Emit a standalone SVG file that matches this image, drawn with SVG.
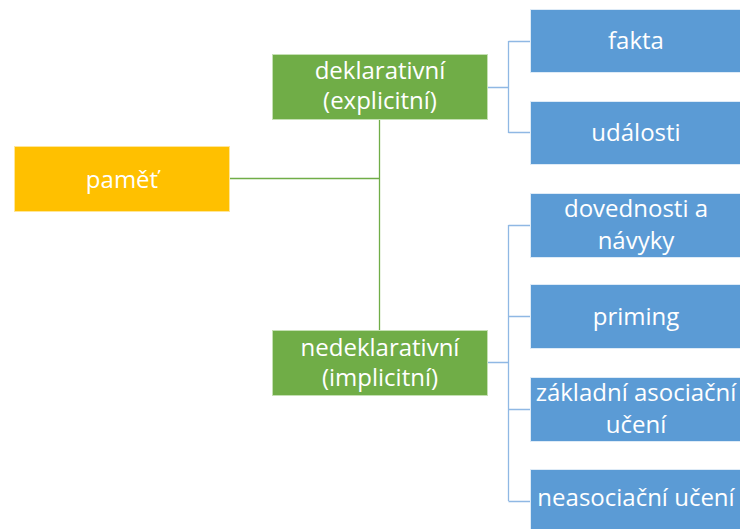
<svg xmlns="http://www.w3.org/2000/svg" width="740" height="529" viewBox="0 0 740 529">
<style>
.t{font-family:"Open Sans","Noto Sans","Liberation Sans",sans-serif;font-size:24px;fill:#fff;text-anchor:middle}
.y{fill:#FFC000;stroke:#FFE699;stroke-width:1}
.g{fill:#70AD47;stroke:#C5E0B4;stroke-width:1}
.b{fill:#5B9BD5;stroke:#DEEBF7;stroke-width:1}
.cg{fill:none;stroke:#70AD47;stroke-width:1.3}
.cb{fill:none;stroke:#8FB8E4;stroke-width:1.3}
</style>
<rect width="740" height="529" fill="#fff"/>
<g id="connectors">
<path class="cg" d="M229 178.5H379.5M379.5 119V330"/>
<path class="cb" d="M487 87.5H508.5M508.5 41V133M508.5 41.5H530M508.5 132.5H530"/>
<path class="cb" d="M487 362.5H508.5M508.5 225V501M508.5 225.5H530M508.5 316.5H530M508.5 409.5H530M508.5 501.5H530"/>
</g>
<g id="pamet"><rect class="y" x="14.5" y="146.5" width="215" height="65"/><text class="t" x="122" y="188">paměť</text></g>
<g id="deklarativni"><rect class="g" x="272.5" y="54.5" width="215" height="65"/><text class="t" x="380" y="79">deklarativní</text><text class="t" x="380" y="109">(explicitní)</text></g>
<g id="nedeklarativni"><rect class="g" x="272.5" y="330.5" width="215" height="65"/><text class="t" x="380" y="356">nedeklarativní</text><text class="t" x="380" y="386">(implicitní)</text></g>
<g id="fakta"><rect class="b" x="530.5" y="9.5" width="214" height="63"/><text class="t" x="636" y="49">fakta</text></g>
<g id="udalosti"><rect class="b" x="530.5" y="101.5" width="214" height="63"/><text class="t" x="636" y="141">události</text></g>
<g id="dovednosti"><rect class="b" x="530.5" y="193.5" width="214" height="64"/><text class="t" x="636" y="217">dovednosti a</text><text class="t" x="636" y="249">návyky</text></g>
<g id="priming"><rect class="b" x="530.5" y="284.5" width="214" height="64"/><text class="t" x="636" y="325">priming</text></g>
<g id="zakladni"><rect class="b" x="530.5" y="377.5" width="214" height="64"/><text class="t" x="636" y="401">základní asociační</text><text class="t" x="636" y="433">učení</text></g>
<g id="neasociacni"><rect class="b" x="530.5" y="469.5" width="214" height="64"/><text class="t" x="636" y="506">neasociační učení</text></g>
</svg>
